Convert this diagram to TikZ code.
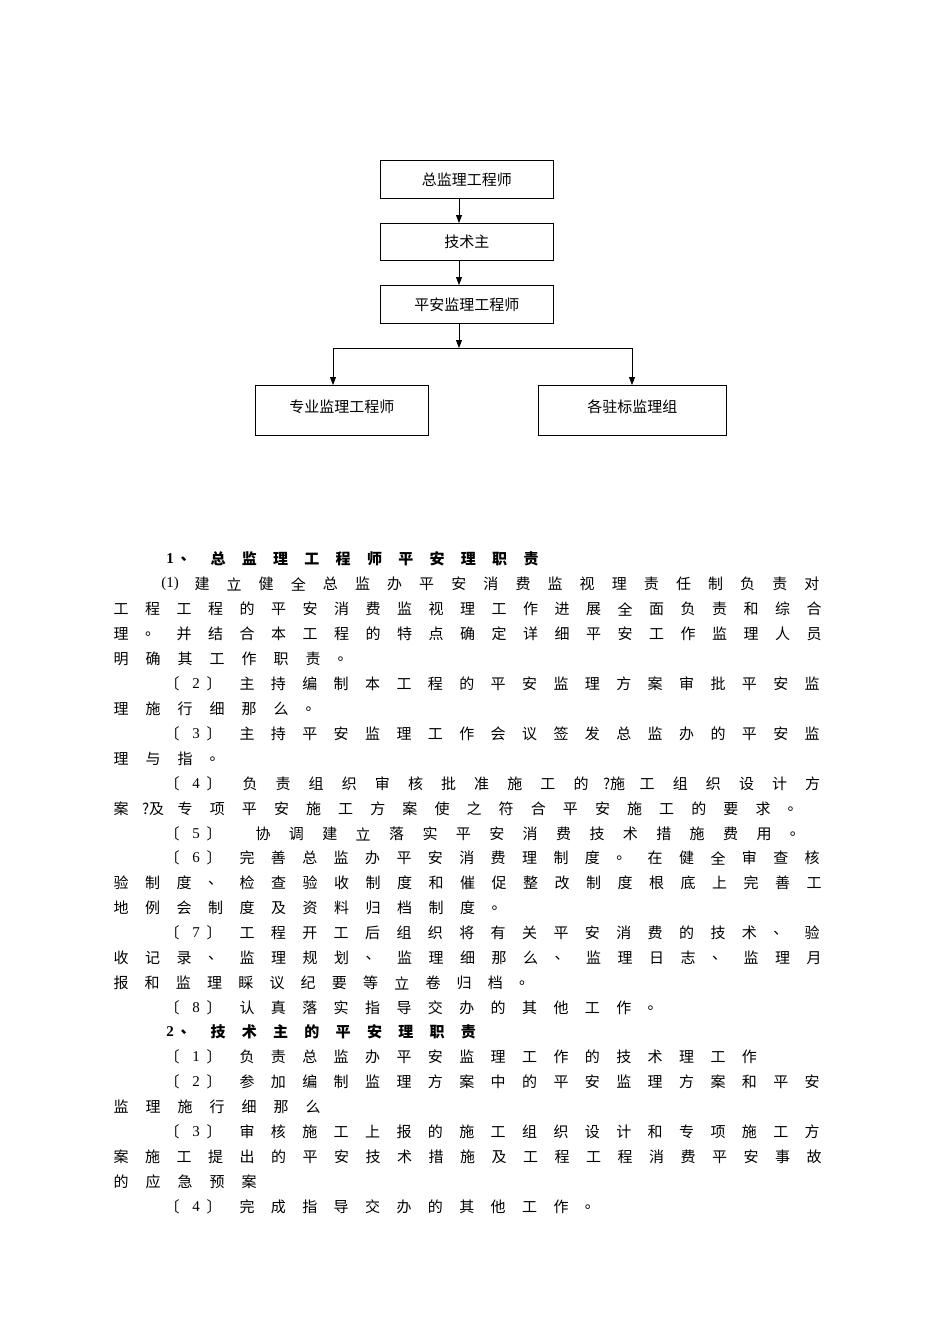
\documentclass[tikz,border=0pt]{standalone}
\usepackage{fontspec}
\setmainfont{Noto Sans CJK SC}
\newfontfamily\latinf{Liberation Serif}
\usetikzlibrary{arrows.meta}
\tikzset{
  box/.style={draw,line width=0.8pt,anchor=north west,inner sep=0pt,font=\fontsize{15}{17}\selectfont},
  txt/.style={inner sep=0pt,font=\fontsize{15}{17}\selectfont},
  btxt/.style={inner sep=0pt,font=\fontsize{15}{17}\selectfont\bfseries},
  conn/.style={line width=0.8pt,-{Triangle[length=8pt,width=6pt]}},
  plain/.style={line width=0.8pt}
}
\newcommand\tl[4]{\foreach \c [count=\i from 0] in {#4} {\node[txt] (l#1-\i) at ({#2+\i*#3},#1) {\c};}}
\newcommand\tb[4]{\foreach \c [count=\i from 0] in {#4} {\node[btxt] (b#1-\i) at ({#2+\i*#3},#1) {\c};}}
\newcommand\br[2]{\node[txt] (o#1) at (172,#1) {〔};\node[txt,font=\fontsize{15}{17}\selectfont\latinf] (n#1) at (196,#1) {#2};\node[txt] (c#1) at (214,#1) {〕};}
\begin{document}
\begin{tikzpicture}[x=1pt,y=-1pt]
\useasboundingbox (0,0) rectangle (950,1344);
% chart
\node[box,minimum width=173pt,minimum height=38pt] (b1) at (380,160) {总监理工程师};
\node[box,minimum width=173pt,minimum height=37pt] (b2) at (380,223) {技术主};
\node[box,minimum width=173pt,minimum height=38pt] (b3) at (380,285) {平安监理工程师};
\node[box,minimum width=173pt,minimum height=50pt] (b4) at (255,385) {\raisebox{8pt}{专业监理工程师}};
\node[box,minimum width=188pt,minimum height=50pt] (b5) at (538,385) {\raisebox{8pt}{各驻标监理组}};
\coordinate (ax) at (459,0);
\draw[conn] (ax |- b1.south) -- (ax |- b2.north);
\draw[conn] (ax |- b2.south) -- (ax |- b3.north);
\coordinate (m) at (459,348);
\coordinate (ml) at (333,348);
\coordinate (mr) at (632,348);
\draw[conn] (ax |- b3.south) -- (m);
\draw[plain] (ml) -- (mr);
\draw[conn] (ml) -- (ml |- b4.north);
\draw[conn] (mr) -- (mr |- b5.north);
% text
\node[btxt,font=\fontsize{15}{17}\selectfont\bfseries\latinf] (h1) at (170,559) {1};
\node[btxt] (h1b) at (188,559) {、};
\tb{559}{218}{31.3}{总,监,理,工,程,师,平,安,理,职,责}
\node[txt,font=\fontsize{15}{17}\selectfont\latinf] (p1) at (170,584) {(1)};
\tl{584}{202}{32.1}{建,立,健,全,总,监,办,平,安,消,费,监,视,理,责,任,制,负,责,对}
\tl{609}{121}{31.5}{工,程,工,程,的,平,安,消,费,监,视,理,工,作,进,展,全,面,负,责,和,综,合}
\tl{634}{121}{31.5}{理,。,并,结,合,本,工,程,的,特,点,确,定,详,细,平,安,工,作,监,理,人,员}
\tl{659}{121}{32}{明,确,其,工,作,职,责,。}
\br{684}{2}
\tl{684}{247}{31.4}{主,持,编,制,本,工,程,的,平,安,监,理,方,案,审,批,平,安,监}
\tl{709}{121}{32}{理,施,行,细,那,么,。}
\br{734}{3}
\tl{734}{247}{31.4}{主,持,平,安,监,理,工,作,会,议,签,发,总,监,办,的,平,安,监}
\tl{759}{121}{32}{理,与,指,。}
\br{784}{4}
\tl{784}{250}{33.1}{负,责,组,织,审,核,批,准,施,工,的,?施,工,组,织,设,计,方}
\tl{809}{121}{32.1}{案,?及,专,项,平,安,施,工,方,案,使,之,符,合,平,安,施,工,的,要,求,。}
\br{834}{5}
\tl{834}{263}{33.4}{协,调,建,立,落,实,平,安,消,费,技,术,措,施,费,用,。}
\br{858}{6}
\tl{858}{247}{31.4}{完,善,总,监,办,平,安,消,费,理,制,度,。,在,健,全,审,查,核}
\tl{883}{121}{31.5}{验,制,度,、,检,查,验,收,制,度,和,催,促,整,改,制,度,根,底,上,完,善,工}
\tl{908}{121}{31.5}{地,例,会,制,度,及,资,料,归,档,制,度,。}
\br{933}{7}
\tl{933}{247}{31.4}{工,程,开,工,后,组,织,将,有,关,平,安,消,费,的,技,术,、,验}
\tl{958}{121}{31.5}{收,记,录,、,监,理,规,划,、,监,理,细,那,么,、,监,理,日,志,、,监,理,月}
\tl{983}{121}{31.2}{报,和,监,理,睬,议,纪,要,等,立,卷,归,档,。}
\br{1008}{8}
\tl{1008}{247}{31.4}{认,真,落,实,指,导,交,办,的,其,他,工,作,。}
\node[btxt,font=\fontsize{15}{17}\selectfont\bfseries\latinf] (h2) at (170,1032) {2};
\node[btxt] (h2b) at (188,1032) {、};
\tb{1032}{218}{31.3}{技,术,主,的,平,安,理,职,责}
\br{1057}{1}
\tl{1057}{247}{31.4}{负,责,总,监,办,平,安,监,理,工,作,的,技,术,理,工,作}
\br{1082}{2}
\tl{1082}{247}{31.4}{参,加,编,制,监,理,方,案,中,的,平,安,监,理,方,案,和,平,安}
\tl{1107}{121}{32}{监,理,施,行,细,那,么}
\br{1132}{3}
\tl{1132}{247}{31.4}{审,核,施,工,上,报,的,施,工,组,织,设,计,和,专,项,施,工,方}
\tl{1157}{121}{31.5}{案,施,工,提,出,的,平,安,技,术,措,施,及,工,程,工,程,消,费,平,安,事,故}
\tl{1182}{121}{32}{的,应,急,预,案}
\br{1207}{4}
\tl{1207}{247}{31.4}{完,成,指,导,交,办,的,其,他,工,作,。}
\end{tikzpicture}
\end{document}
